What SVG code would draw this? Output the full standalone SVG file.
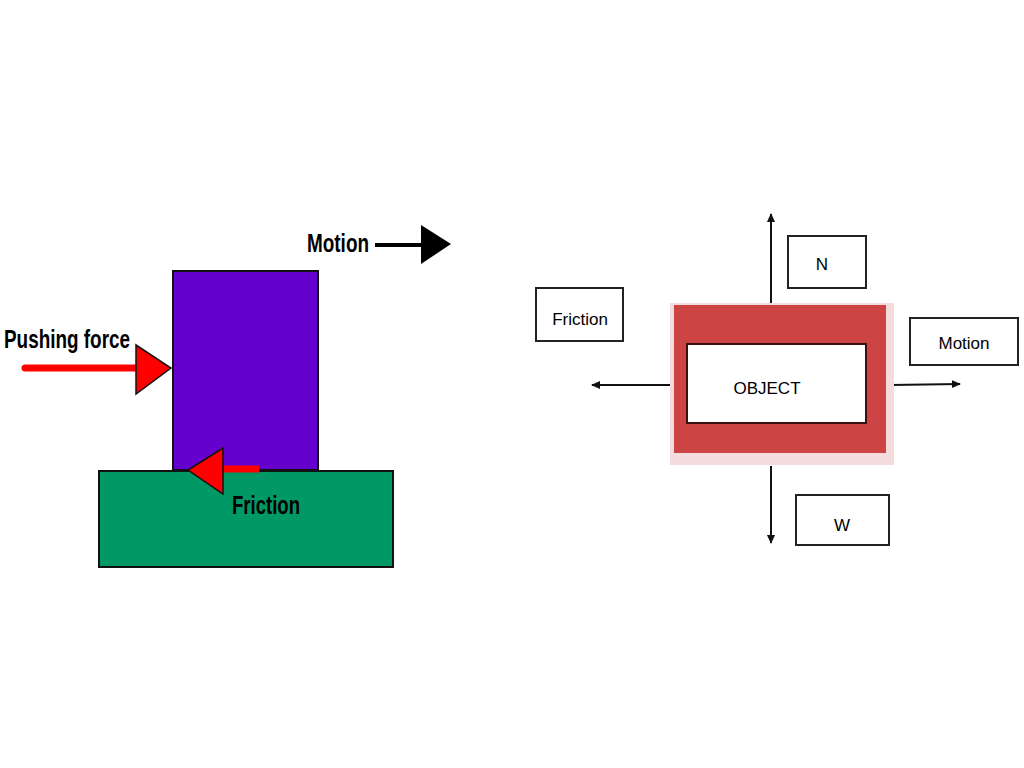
<svg xmlns="http://www.w3.org/2000/svg" width="1024" height="768" viewBox="0 0 1024 768">
<defs>
<style>
.big{font-family:"Liberation Sans Narrow","Liberation Sans",Arial,sans-serif;font-weight:bold;font-size:25px;fill:#000}
.sm{font-family:"Liberation Sans",Arial,sans-serif;font-size:17px;fill:#000}
.box{fill:#fff;stroke:#222;stroke-width:2}
.thin{stroke:#111;stroke-width:2;fill:none}
</style>
<marker id="ah" markerWidth="10" markerHeight="10" refX="8" refY="5" orient="auto" markerUnits="userSpaceOnUse"><path d="M0,1 L9,5 L0,9 Z" fill="#111"/></marker>
</defs>
<rect width="1024" height="768" fill="#fff"/>
<g id="ground"><rect x="99" y="471" width="294" height="96" fill="#009966" stroke="#111" stroke-width="2"/></g>
<g id="block"><rect x="173" y="271" width="145" height="199" fill="#6600cc" stroke="#111" stroke-width="2"/></g>
<g id="connectors">
<line x1="25" y1="368" x2="138" y2="368" stroke="#ff0000" stroke-width="7" stroke-linecap="round"/>
<polygon points="136,345 171,368 136,394" fill="#ff0000" stroke="#111" stroke-width="1.5"/>
<line x1="222" y1="469" x2="259" y2="469" stroke="#ff0000" stroke-width="7"/>
<polygon points="223,448 188,470 223,494" fill="#ff0000" stroke="#111" stroke-width="1.5"/>
<line x1="375" y1="245" x2="423" y2="245" stroke="#000" stroke-width="4"/>
<polygon points="421,225 451,244 421,264" fill="#000"/>
<line class="thin" x1="771" y1="304" x2="771" y2="214" marker-end="url(#ah)"/>
<line class="thin" x1="771" y1="466" x2="771" y2="543" marker-end="url(#ah)"/>
<line class="thin" x1="670" y1="385" x2="592" y2="385" marker-end="url(#ah)"/>
<line class="thin" x1="890" y1="385" x2="960" y2="384" marker-end="url(#ah)"/>
</g>
<g id="labels-left">
<text class="big" x="4" y="348" textLength="126" lengthAdjust="spacingAndGlyphs">Pushing force</text>
<text class="big" x="232" y="514" textLength="68" lengthAdjust="spacingAndGlyphs">Friction</text>
<text class="big" x="307" y="252" textLength="62" lengthAdjust="spacingAndGlyphs">Motion</text>
</g>
<g id="object">
<rect x="670" y="303" width="224" height="162" fill="#f4dcdc"/>
<rect x="674" y="305" width="212" height="148" fill="#cc4444"/>
<rect x="687" y="344" width="179" height="79" fill="#fff" stroke="#3a1010" stroke-width="2"/>
<text class="sm" x="767" y="394" text-anchor="middle">OBJECT</text>
</g>
<g id="N"><rect class="box" x="788" y="236" width="78" height="52"/><text class="sm" x="822" y="270" text-anchor="middle">N</text></g>
<g id="W"><rect class="box" x="796" y="495" width="93" height="50"/><text class="sm" x="842" y="531" text-anchor="middle">W</text></g>
<g id="Friction"><rect class="box" x="536" y="288" width="87" height="53"/><text class="sm" x="580" y="325" text-anchor="middle">Friction</text></g>
<g id="Motion"><rect class="box" x="910" y="318" width="108" height="47"/><text class="sm" x="964" y="349" text-anchor="middle">Motion</text></g>
</svg>
